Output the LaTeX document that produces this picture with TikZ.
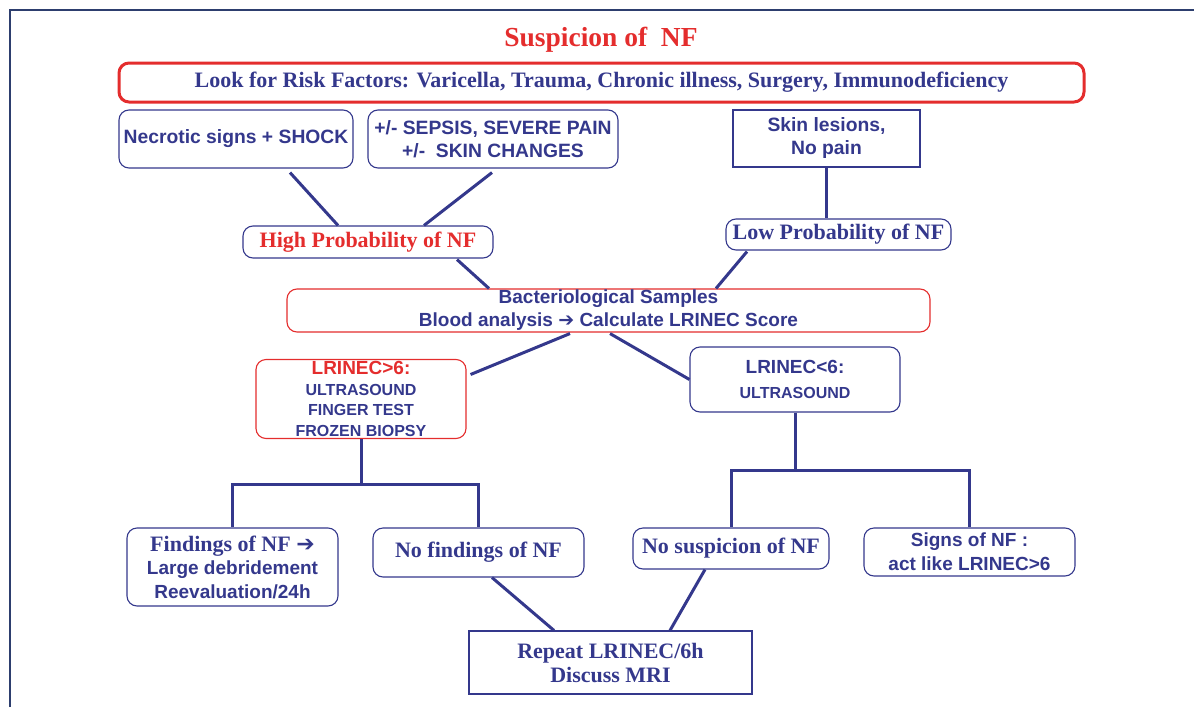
\documentclass[tikz,border=0pt]{standalone}
\usepackage{fontspec}
\setmainfont{Liberation Serif}
\newfontfamily\sansb{Liberation Sans}
\newfontfamily\arrowfont{DejaVu Sans}
\usetikzlibrary{calc}
\definecolor{navy}{RGB}{52,56,140}
\definecolor{fred}{RGB}{228,45,45}
\definecolor{framec}{RGB}{45,62,110}
\newcommand{\rarr}{{\arrowfont\char"2794}}
\tikzset{
  box/.style={draw=navy, line width=1.1pt, rounded corners=10pt, text=navy, align=center, inner sep=0pt},
  sqbox/.style={draw=navy, line width=1.1pt, text=navy, align=center, inner sep=0pt},
  redbox/.style={draw=fred, line width=1.1pt, rounded corners=10pt, text=navy, align=center, inner sep=0pt},
  conn/.style={draw=navy, line width=3pt},
  serifb/.style={font=\fontsize{22}{24}\selectfont\bfseries},
  sansbig/.style={font=\sansb\fontsize{19.3}{23}\selectfont\bfseries},
}
\begin{document}
\begin{tikzpicture}[x=1pt,y=-1pt]
\useasboundingbox (0,0) rectangle (1194,707);
\draw[framec, line width=1.4pt] (10,707) -- (10,10) -- (1194,10);

\node[text=fred, font=\fontsize{27.5}{30}\selectfont\bfseries] (title) at (601,40) {Suspicion of\ \ NF};

\node[draw=fred, line width=3pt, rounded corners=10pt, text=navy, minimum width=965pt, minimum height=39pt, serifb] (risk) at (601.5,82.5)
  {Look for Risk Factors: Varicella, Trauma, Chronic illness, Surgery, Immunodeficiency};

\node[box, sansbig, minimum width=234pt, minimum height=58pt] (nec) at (236,139) {Necrotic signs + SHOCK};
\node[box, sansbig, minimum width=250pt, minimum height=58pt] (sep) at (493,139) {+/- SEPSIS, SEVERE PAIN\\+/-\ \ SKIN CHANGES};
\node[sqbox, sansbig, minimum width=187pt, minimum height=57pt] (skin) at (826.5,138.5) {Skin lesions,\\No pain};

\node[box, serifb, text=fred, minimum width=250pt, minimum height=32pt] (high) at (368,242) {High Probability of NF};
\node[box, serifb, minimum width=225pt, minimum height=31pt] (low) at (838.5,234.5) {Low Probability of NF};

\node[redbox, font=\sansb\fontsize{19}{23}\selectfont\bfseries, minimum width=643pt, minimum height=43pt] (bact) at (608.5,310.5)
  {Bacteriological Samples\\Blood analysis \rarr\ Calculate LRINEC Score};

\node[redbox, minimum width=210pt, minimum height=79pt, font=\sansb\fontsize{16}{20.7}\selectfont\bfseries] (lgt) at (361,399)
  {{\color{fred}\fontsize{19}{20.7}\selectfont LRINEC>6:}\\ULTRASOUND\\FINGER TEST\\FROZEN BIOPSY};
\node[box, minimum width=210pt, minimum height=65pt, font=\sansb\fontsize{16}{25}\selectfont\bfseries] (llt) at (795,379.5)
  {{\fontsize{19}{25}\selectfont LRINEC<6:}\\ULTRASOUND};

\node[box, minimum width=211pt, minimum height=78pt, font=\sansb\fontsize{19}{23.5}\selectfont\bfseries] (find) at (232.5,567)
  {{\rmfamily\fontsize{22}{23.5}\selectfont Findings of NF \rarr}\\Large debridement\\Reevaluation/24h};
\node[box, serifb, minimum width=211pt, minimum height=49pt] (nofind) at (478.5,552.5) {No findings of NF};
\node[box, serifb, minimum width=196pt, minimum height=41pt] (nosusp) at (731,548.5) {No suspicion of NF};
\node[box, font=\sansb\fontsize{19}{24}\selectfont\bfseries, minimum width=211pt, minimum height=48pt] (signs) at (969.5,552) {Signs of NF :\\act like LRINEC>6};
\node[sqbox, font=\fontsize{22}{24}\selectfont\bfseries, minimum width=283pt, minimum height=63pt] (repeat) at (610.5,662.5) {Repeat LRINEC/6h\\Discuss MRI};

% connectors
\draw[conn] ($(nec.south)+(54,4)$) -- ($(high.north)+(-30,0)$);
\draw[conn] ($(sep.south)+(-1,4)$) -- ($(high.north)+(56,0)$);
\draw[conn] (skin.south) -- (skin.south |- low.north);
\draw[conn] ($(high.south)+(89,1)$) -- ($(bact.north)+(-119.5,0)$);
\draw[conn] ($(low.south)+(-91.5,1)$) -- ($(bact.north)+(107.5,0)$);
\draw[conn] ($(bact.south)+(-38.5,1)$) -- ($(lgt.east)+(4,-24.5)$);
\draw[conn] ($(bact.south)+(1.5,1)$) -- (llt.west);

\draw[conn] (lgt.south) -- ++(0,45) coordinate (lj);
\draw[conn] (lj) -| (find.north);
\draw[conn] (lj) -| (nofind.north);

\draw[conn] (llt.south) -- ++(0,58) coordinate (rj);
\draw[conn] (rj) -| (nosusp.north);
\draw[conn] (rj) -| (signs.north);

\draw[conn] ($(nofind.south)+(13.5,0)$) -- ($(repeat.north)+(-56.5,0)$);
\draw[conn] ($(nosusp.south)+(-26,0)$) -- ($(repeat.north)+(59.5,0)$);
\end{tikzpicture}
\end{document}
